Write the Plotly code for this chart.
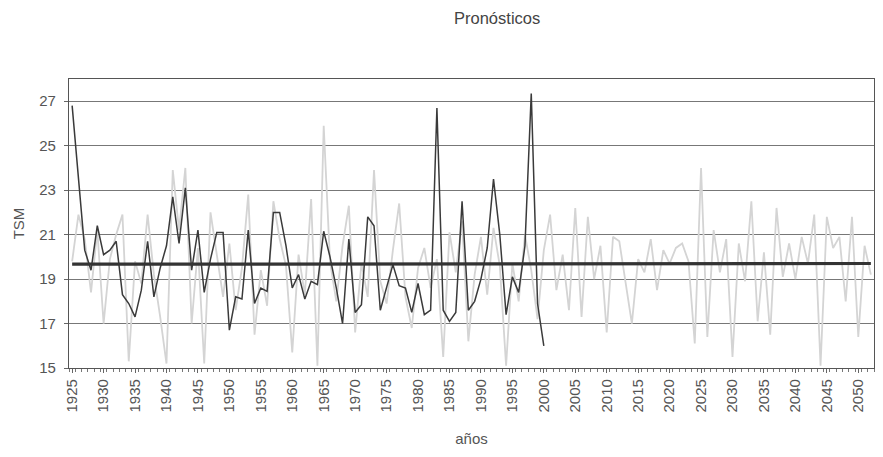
import plotly.graph_objects as go

# Observed sea-surface temperature (TSM), 1925-2000
obs_years = list(range(1925, 2001))
obs_tsm = [
    26.8, 23.6, 20.3, 19.4, 21.4, 20.1, 20.3, 20.7, 18.3, 17.9,
    17.3, 18.5, 20.7, 18.2, 19.5, 20.5, 22.7, 20.6, 23.1, 19.4,
    21.2, 18.4, 19.9, 21.1, 21.1, 16.7, 18.2, 18.1, 21.2, 17.9,
    18.6, 18.45, 22.0, 22.0, 20.5, 18.6, 19.2, 18.1, 18.9, 18.75,
    21.15, 20.0, 18.6, 17.0, 20.8, 17.5, 17.85, 21.8, 21.4, 17.6,
    18.6, 19.65, 18.7, 18.6, 17.5, 18.8, 17.4, 17.6, 26.7, 17.6,
    17.1, 17.5, 22.5, 17.6, 18.0, 19.0, 20.4, 23.5, 21.0, 17.4,
    19.1, 18.4, 20.5, 27.35, 17.9, 16.0,
]

# Model series / forecasts, 1925-2052
fc_years = list(range(1925, 2053))
fc_tsm = [
    19.8, 21.9, 20.8, 18.4, 21.2, 17.0, 19.9, 21.0, 21.9, 15.3,
    19.8, 18.8, 21.9, 19.2, 17.3, 15.2, 23.9, 21.2, 24.0, 17.0,
    20.4, 15.2, 22.0, 20.2, 18.2, 20.6, 17.6, 19.5, 22.8, 16.5,
    19.4, 17.8, 22.5, 20.8, 19.6, 15.7, 20.1, 18.3, 22.6, 15.1,
    25.9, 19.8, 18.0, 20.5, 22.3, 16.6, 19.7, 18.2, 23.9, 18.9,
    17.9, 20.3, 22.4, 18.2, 16.8, 19.5, 20.4, 18.6, 19.9, 15.5,
    21.1, 19.3, 21.6, 16.2, 19.2, 20.9, 18.3, 21.3, 19.6, 15.1,
    19.7, 18.0, 21.0, 19.4, 17.2, 20.3, 21.9, 18.5, 20.1, 17.6,
    22.2, 17.3, 21.8, 19.0, 20.5, 16.6, 20.9, 20.7, 18.9, 17.0,
    19.9, 19.3, 20.8, 18.5, 20.3, 19.7, 20.4, 20.6, 19.8, 16.1,
    24.0, 16.4, 21.2, 19.3, 20.8, 15.5, 20.6, 18.9, 22.5, 17.1,
    20.2, 16.5, 22.2, 19.1, 20.6, 19.0, 20.9, 19.7, 21.9, 15.1,
    21.8, 20.4, 20.9, 18.0, 21.8, 16.4, 20.5, 19.2,
]

# Linear trend endpoints
trend_years = [1925, 2052]
trend_tsm = [19.67, 19.70]

x_ticks = list(range(1925, 2051, 5))
y_ticks = [15, 17, 19, 21, 23, 25, 27]

font_family = "Liberation Sans, Arial, sans-serif"

fig = go.Figure()
fig.add_trace(go.Scatter(
    x=fc_years, y=fc_tsm, mode="lines",
    line=dict(color="#d4d4d4", width=1.8),
    showlegend=False, hoverinfo="skip",
))
fig.add_trace(go.Scatter(
    x=obs_years, y=obs_tsm, mode="lines",
    line=dict(color="#3a3a3a", width=1.5),
    showlegend=False,
))
fig.add_trace(go.Scatter(
    x=trend_years, y=trend_tsm, mode="lines",
    line=dict(color="#333333", width=3.2),
    showlegend=False,
))

fig.update_layout(
    width=883, height=457,
    margin=dict(l=69, r=9, t=79, b=89),
    paper_bgcolor="white",
    plot_bgcolor="white",
    font=dict(family=font_family, color="#444444", size=14),
    title=dict(
        text="Pronósticos", x=0.563, xanchor="center",
        y=0.96, yanchor="middle",
        font=dict(size=16.5, color="#444444"),
    ),
)

fig.update_xaxes(
    range=[1924.5, 2052.5],
    tickmode="array", tickvals=x_ticks, ticktext=[str(v) for v in x_ticks],
    tickangle=-90,
    tickfont=dict(size=15, color="#555555"),
    ticks="outside", ticklen=4, tickcolor="#666666",
    minor=dict(dtick=1, tick0=1924.5, ticks="outside", ticklen=3, tickcolor="#777777"),
    showgrid=False, zeroline=False,
    showline=True, linecolor="#555555", linewidth=1.2, mirror=True,
    title=dict(text="años", font=dict(size=15, color="#555555"), standoff=22),
)

fig.update_yaxes(
    range=[15, 28],
    tickmode="array", tickvals=y_ticks, ticktext=[str(v) for v in y_ticks],
    tickfont=dict(size=15, color="#555555"),
    ticks="outside", ticklen=4, tickcolor="#666666",
    ticklabelstandoff=5,
    showgrid=True, gridcolor="#777777", gridwidth=1,
    zeroline=False,
    showline=True, linecolor="#555555", linewidth=1.2, mirror=True,
    title=dict(text="TSM", font=dict(size=15, color="#555555"), standoff=10),
)

fig.write_html("out.html")
